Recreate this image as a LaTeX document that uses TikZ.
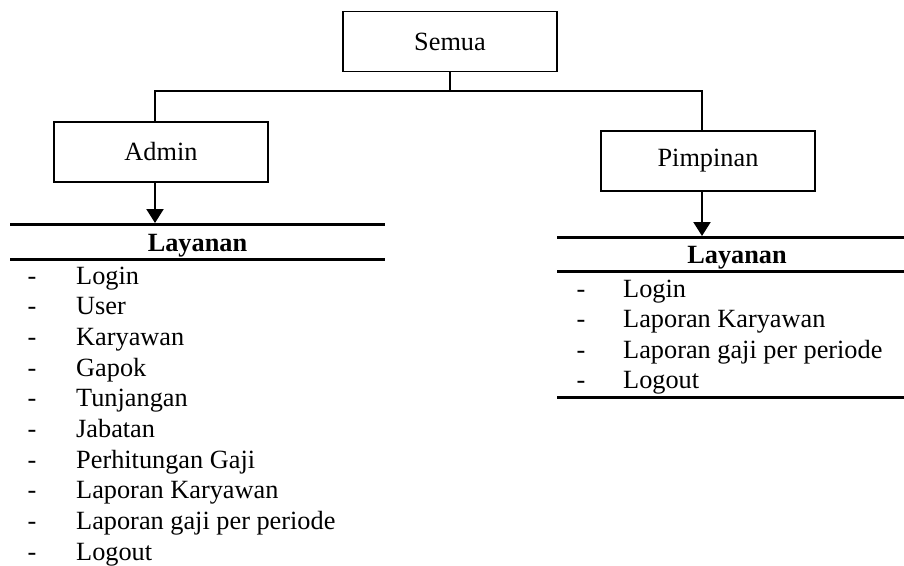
\documentclass[tikz,border=0pt]{standalone}
\usepackage{fontspec}
\setmainfont{Liberation Serif}
\usetikzlibrary{arrows.meta}

\tikzset{
  box/.style={draw, line width=1.3pt, minimum width=214pt, minimum height=60pt, inner sep=0pt, font=\fontsize{26.3}{30}\selectfont},
  itm/.style={anchor=base west, inner sep=0pt, font=\fontsize{26.3}{30}\selectfont},
  dsh/.style={anchor=base, inner sep=0pt, font=\fontsize{26.3}{30}\selectfont},
  head/.style={anchor=base, inner sep=0pt, font=\fontsize{26.3}{30}\selectfont\bfseries},
  rule/.style={line width=3pt},
  link/.style={line width=1.3pt},
  down/.style={line width=2.2pt, -{Triangle[length=14pt,width=17pt]}}
}

\begin{document}
\begin{tikzpicture}[x=1pt, y=-1pt]
        \useasboundingbox (0,0) rectangle (904,565);

        \node[box] (Semua) at (450, 41.5) {Semua};
        \node[box] (Admin) at (161, 152) {Admin};
        \node[box] (Pimpinan) at (708, 161) {Pimpinan};

        \coordinate (split) at (450, 91);
        \coordinate (lft) at (155, 91);
        \coordinate (rgt) at (702, 91);
        \draw[link] (Semua) -- (split);
        \draw[link] (lft |- Admin.north) -- (lft) -- (rgt) -- (rgt |- Pimpinan.north);

        % arrows down to the lists
        \coordinate (admtip) at (155, 223);
        \coordinate (pimtip) at (702, 236);
        \draw[down] (lft |- Admin.south) -- (admtip);
        \draw[down] (rgt |- Pimpinan.south) -- (pimtip);

        % Admin list
        \draw[rule] (10, 224) -- (385, 224);
        \node[head] (admhead) at (197.5, 251) {Layanan};
        \draw[rule] (10, 259) -- (385, 259);
        \foreach \lbl [count=\i] in {Login, User, Karyawan, Gapok, Tunjangan, Jabatan, Perhitungan Gaji, Laporan Karyawan, Laporan gaji per periode, Logout} {
            \node[dsh] (admd\i) at (32, {284+30.67*(\i-1)}) {-};
            \node[itm] (adm\i) at (76, {284+30.67*(\i-1)}) {\lbl};
        }

        % Pimpinan list
        \draw[rule] (557, 237) -- (904, 237);
        \node[head] (pimhead) at (737, 263) {Layanan};
        \draw[rule] (557, 271) -- (904, 271);
        \foreach \lbl [count=\i] in {Login, Laporan Karyawan, Laporan gaji per periode, Logout} {
            \node[dsh] (pimd\i) at (581, {297+30.5*(\i-1)}) {-};
            \node[itm] (pim\i) at (623, {297+30.5*(\i-1)}) {\lbl};
        }
        \draw[rule] (557, 397) -- (904, 397);
    \end{tikzpicture}
\end{document}
